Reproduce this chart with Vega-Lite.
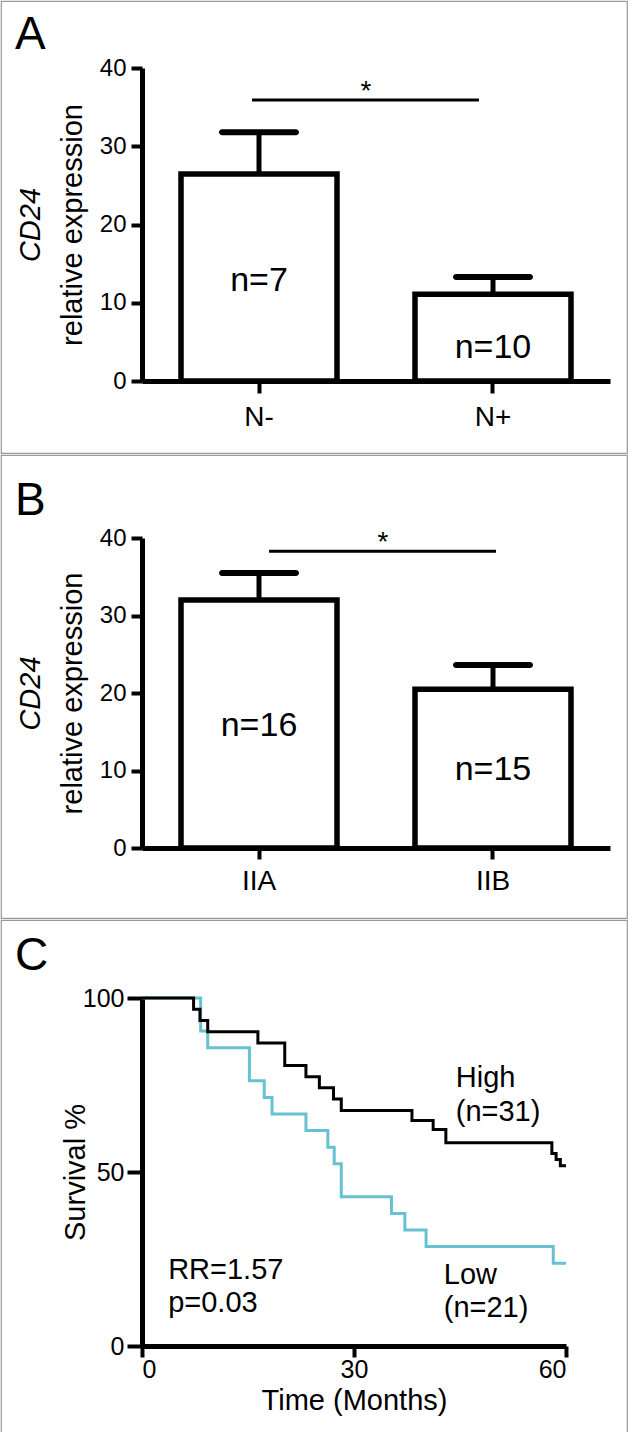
{
  "$schema": "https://vega.github.io/schema/vega-lite/v6.json",
  "background": "white",
  "padding": 0,
  "spacing": 0,
  "config": {
    "font": "Liberation Sans",
    "view": {"stroke": "#9a9a9a", "strokeWidth": 1.2},
    "axis": {"grid": false, "labelColor": "black", "titleColor": "black", "domainColor": "black", "tickColor": "black", "labelFont": "Liberation Sans", "titleFont": "Liberation Sans", "titleFontWeight": "normal"},
    "title": {"font": "Liberation Sans", "fontWeight": "normal", "color": "black", "anchor": "start", "frame": "group", "fontSize": 46, "dx": 14}
  },
  "vconcat": [
    {
      "title": {"text": "A", "offset": -58},
      "width": 626,
      "height": 452,
      "layer": [
        {
          "data": {"values": [
            {"group": "N-", "mean": 26.45, "upper": 31.8, "n": "n=7", "npos": 12.8},
            {"group": "N+", "mean": 11.1, "upper": 13.3, "n": "n=10", "npos": 4.2}
          ]},
          "encoding": {
            "x": {"field": "group", "type": "nominal", "sort": ["N-", "N+"], "scale": {"range": [141, 609], "paddingInner": 0.3333, "paddingOuter": 0.1667},
              "axis": {"title": null, "offset": -72, "labelAngle": 0, "labelFontSize": 28, "labelPadding": 10, "domainWidth": 5, "tickWidth": 4, "tickSize": 12}},
            "y": {"type": "quantitative", "scale": {"domain": [0, 40], "nice": false, "range": [380, 67]},
              "axis": {"title": "relative  expression", "offset": -141, "values": [0, 10, 20, 30, 40], "labelFontSize": 24, "labelPadding": 5, "domainWidth": 5, "tickWidth": 4, "tickSize": 11, "titleFontSize": 29, "titlePadding": 12}}
          },
          "layer": [
            {"mark": {"type": "rule", "strokeWidth": 5, "color": "black"}, "encoding": {"y": {"field": "mean"}, "y2": {"field": "upper"}}},
            {"mark": {"type": "tick", "thickness": 6, "size": 80, "cornerRadius": 3, "color": "black", "opacity": 1}, "encoding": {"y": {"field": "upper"}}},
            {"mark": {"type": "bar", "fill": "white", "stroke": "black", "strokeWidth": 5.5}, "encoding": {"y": {"field": "mean"}}},
            {"mark": {"type": "text", "fontSize": 34, "baseline": "middle", "color": "black"}, "encoding": {"y": {"field": "npos"}, "text": {"field": "n"}}}
          ]
        },
        {
          "data": {"values": [{"x1": 0.47, "x2": 1.44, "y": 35.9, "xs": 0.957, "star": "*"}]},
          "encoding": {
            "y": {"field": "y", "type": "quantitative", "scale": {"domain": [0, 40], "nice": false, "range": [380, 67]},
              "axis": {"orient": "left", "offset": -141, "title": "CD24", "titleFontStyle": "italic", "titleFontSize": 29, "domain": false, "ticks": false, "labels": false, "titlePadding": 97}}
          },
          "layer": [
            {"mark": {"type": "rule", "strokeWidth": 3, "color": "black"},
              "encoding": {"x": {"field": "x1", "type": "quantitative", "scale": {"domain": [0, 2], "range": [141, 609]}, "axis": null}, "x2": {"field": "x2"}}},
            {"mark": {"type": "text", "fontSize": 28, "baseline": "alphabetic", "color": "black"},
              "encoding": {"x": {"field": "xs", "type": "quantitative", "scale": {"domain": [0, 2], "range": [141, 609]}, "axis": null}, "text": {"field": "star"}}}
          ]
        }
      ],
      "resolve": {"scale": {"x": "independent", "y": "independent"}}
    },
    {
      "title": {"text": "B", "offset": -70},
      "width": 626,
      "height": 463,
      "layer": [
        {
          "data": {"values": [
            {"group": "IIA", "mean": 32.0, "upper": 35.5, "n": "n=16", "npos": 15.7},
            {"group": "IIB", "mean": 20.5, "upper": 23.6, "n": "n=15", "npos": 10.1}
          ]},
          "encoding": {
            "x": {"field": "group", "type": "nominal", "sort": ["IIA", "IIB"], "scale": {"range": [141, 609], "paddingInner": 0.3333, "paddingOuter": 0.1667},
              "axis": {"title": null, "offset": -70, "labelAngle": 0, "labelFontSize": 28, "labelPadding": 8, "domainWidth": 5, "tickWidth": 4, "tickSize": 11}},
            "y": {"type": "quantitative", "scale": {"domain": [0, 40], "nice": false, "range": [393, 83]},
              "axis": {"title": "relative  expression", "offset": -141, "values": [0, 10, 20, 30, 40], "labelFontSize": 24, "labelPadding": 5, "domainWidth": 5, "tickWidth": 4, "tickSize": 11, "titleFontSize": 29, "titlePadding": 12}}
          },
          "layer": [
            {"mark": {"type": "rule", "strokeWidth": 5, "color": "black"}, "encoding": {"y": {"field": "mean"}, "y2": {"field": "upper"}}},
            {"mark": {"type": "tick", "thickness": 6, "size": 80, "cornerRadius": 3, "color": "black", "opacity": 1}, "encoding": {"y": {"field": "upper"}}},
            {"mark": {"type": "bar", "fill": "white", "stroke": "black", "strokeWidth": 5.5}, "encoding": {"y": {"field": "mean"}}},
            {"mark": {"type": "text", "fontSize": 34, "baseline": "middle", "color": "black"}, "encoding": {"y": {"field": "npos"}, "text": {"field": "n"}}}
          ]
        },
        {
          "data": {"values": [{"x1": 0.543, "x2": 1.513, "y": 38.3, "xs": 1.03, "star": "*"}]},
          "encoding": {
            "y": {"field": "y", "type": "quantitative", "scale": {"domain": [0, 40], "nice": false, "range": [393, 83]},
              "axis": {"orient": "left", "offset": -141, "title": "CD24", "titleFontStyle": "italic", "titleFontSize": 29, "domain": false, "ticks": false, "labels": false, "titlePadding": 97}}
          },
          "layer": [
            {"mark": {"type": "rule", "strokeWidth": 3, "color": "black"},
              "encoding": {"x": {"field": "x1", "type": "quantitative", "scale": {"domain": [0, 2], "range": [141, 609]}, "axis": null}, "x2": {"field": "x2"}}},
            {"mark": {"type": "text", "fontSize": 28, "baseline": "alphabetic", "color": "black"},
              "encoding": {"x": {"field": "xs", "type": "quantitative", "scale": {"domain": [0, 2], "range": [141, 609]}, "axis": null}, "text": {"field": "star"}}}
          ]
        }
      ],
      "resolve": {"scale": {"x": "independent", "y": "independent"}}
    },
    {
      "title": {"text": "C", "offset": -60},
      "width": 626,
      "height": 515,
      "encoding": {
        "x": {"field": "t", "type": "quantitative", "scale": {"domain": [0, 60], "nice": false, "range": [141, 565]},
          "axis": {"title": "Time (Months)", "offset": -89, "values": [0, 30, 60], "labelFontSize": 25, "labelPadding": 0, "domainWidth": 5, "tickWidth": 4, "tickSize": 11, "titleFontSize": 29, "titlePadding": 4}},
        "y": {"field": "s", "type": "quantitative", "scale": {"domain": [0, 100], "nice": false, "range": [426, 78]},
          "axis": {"title": "Survival %", "offset": -141, "values": [0, 50, 100], "labelFontSize": 25, "labelPadding": 3, "domainWidth": 5, "tickWidth": 4, "tickSize": 15, "titleFontSize": 29, "titlePadding": -8}}
      },
      "layer": [
        {
          "data": {"name": "km"},
          "transform": [{"filter": "datum.group === 'Low'"}],
          "mark": {"type": "line", "interpolate": "step-after", "strokeWidth": 3, "color": "#66c2d0"}
        },
        {
          "data": {"name": "km"},
          "transform": [{"filter": "datum.group === 'High'"}],
          "mark": {"type": "line", "interpolate": "step-after", "strokeWidth": 3, "color": "black"}
        },
        {
          "data": {"values": [
            {"t": 44.4, "s": 77.0, "label": "High"},
            {"t": 44.4, "s": 67.2, "label": "(n=31)"},
            {"t": 42.7, "s": 20.4, "label": "Low"},
            {"t": 42.7, "s": 10.9, "label": "(n=21)"},
            {"t": 3.7, "s": 21.8, "label": "RR=1.57"},
            {"t": 3.7, "s": 12.4, "label": "p=0.03"}
          ]},
          "mark": {"type": "text", "align": "left", "baseline": "middle", "fontSize": 29, "color": "black"},
          "encoding": {"text": {"field": "label"}}
        }
      ]
    }
  ],
  "datasets": {
    "km": [
      {"group": "High", "t": 0, "s": 100},
      {"group": "High", "t": 7.3, "s": 96.8},
      {"group": "High", "t": 8.2, "s": 93.5},
      {"group": "High", "t": 9.3, "s": 90.3},
      {"group": "High", "t": 16.4, "s": 87.1},
      {"group": "High", "t": 20.2, "s": 80.6},
      {"group": "High", "t": 23.2, "s": 77.4},
      {"group": "High", "t": 25.1, "s": 74.2},
      {"group": "High", "t": 27.1, "s": 71.0},
      {"group": "High", "t": 28.2, "s": 67.7},
      {"group": "High", "t": 38.2, "s": 64.8},
      {"group": "High", "t": 41.2, "s": 62.2},
      {"group": "High", "t": 43.0, "s": 58.4},
      {"group": "High", "t": 58.0, "s": 55.3},
      {"group": "High", "t": 58.6, "s": 53.6},
      {"group": "High", "t": 59.2, "s": 51.8},
      {"group": "High", "t": 60, "s": 51.8},
      {"group": "Low", "t": 0, "s": 100},
      {"group": "Low", "t": 8.3, "s": 90.5},
      {"group": "Low", "t": 9.3, "s": 85.7},
      {"group": "Low", "t": 15.2, "s": 76.2},
      {"group": "Low", "t": 17.3, "s": 71.4},
      {"group": "Low", "t": 18.4, "s": 66.7},
      {"group": "Low", "t": 23.2, "s": 61.9},
      {"group": "Low", "t": 26.3, "s": 57.1},
      {"group": "Low", "t": 27.2, "s": 52.4},
      {"group": "Low", "t": 28.2, "s": 42.9},
      {"group": "Low", "t": 35.3, "s": 38.1},
      {"group": "Low", "t": 37.2, "s": 33.3},
      {"group": "Low", "t": 40.2, "s": 28.6},
      {"group": "Low", "t": 58.2, "s": 23.8},
      {"group": "Low", "t": 60, "s": 23.8}
    ]
  }
}
